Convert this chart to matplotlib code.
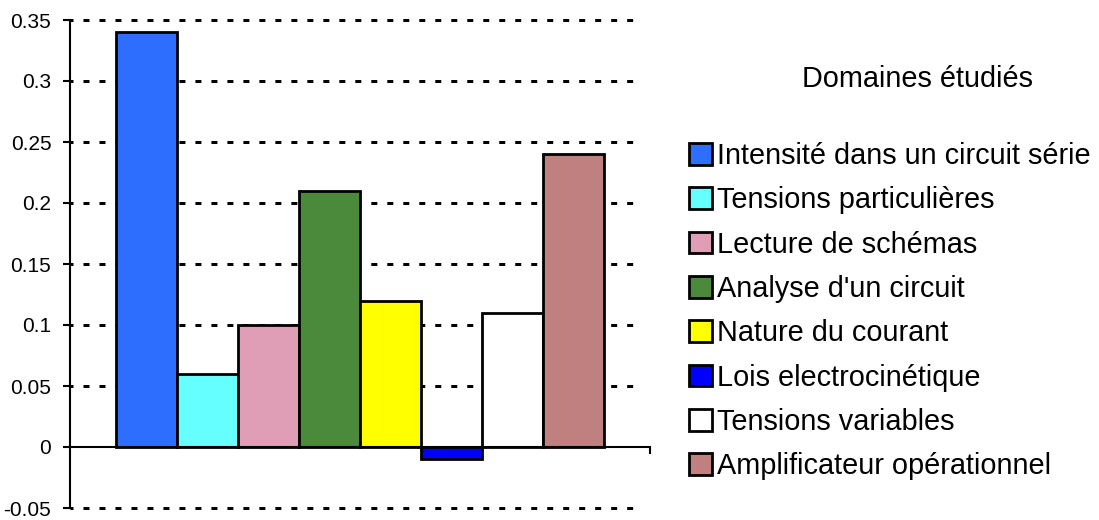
import matplotlib.pyplot as plt
from matplotlib.patches import Patch

# Données
domaines = [
    "Intensité dans un circuit série",
    "Tensions particulières",
    "Lecture de schémas",
    "Analyse d'un circuit",
    "Nature du courant",
    "Lois electrocinétique",
    "Tensions variables",
    "Amplificateur opérationnel",
]
valeurs = [0.34, 0.06, 0.10, 0.21, 0.12, -0.01, 0.11, 0.24]
couleurs = ["#2E6EFF", "#66FFFF", "#E09EB6", "#4A8A3A",
            "#FFFF00", "#0000FF", "#FFFFFF", "#C08080"]
graduations = [-0.05, 0, 0.05, 0.1, 0.15, 0.2, 0.25, 0.3, 0.35]

plt.rcParams["font.family"] = ["Liberation Sans", "DejaVu Sans"]

fig = plt.figure(figsize=(10.99, 5.2), dpi=100)
ax = fig.add_axes([70 / 1099, 1 - 508 / 520, 580 / 1099, 488 / 520])

pos = list(range(len(valeurs)))
ax.bar(pos, valeurs, width=1.0, color=couleurs, edgecolor="black",
       linewidth=2.0, zorder=3)

marge = 0.745
ax.set_xlim(-0.5 - marge, len(valeurs) - 0.5 + marge)
ax.set_ylim(-0.05, 0.35)
ax.set_yticks(graduations)
ax.set_yticklabels([f"{g:g}" for g in graduations])
ax.tick_params(axis="y", labelsize=15, length=5, width=1.5, pad=8.5,
               direction="out")

# lignes pointillées horizontales
for g in graduations:
    if g == 0:
        continue
    ax.axhline(g, color="black", linewidth=2.16,
               linestyle=(1.0, (2.0, 3.33)),
               zorder=1, clip_on=False, xmax=0.986)

ax.spines["top"].set_visible(False)
ax.spines["right"].set_visible(False)
ax.spines["left"].set_linewidth(1.5)
ax.spines["left"].set_zorder(4)
ax.spines["bottom"].set_position(("data", 0))
ax.spines["bottom"].set_linewidth(1.5)
ax.spines["bottom"].set_zorder(4)
ax.set_xticks([ax.get_xlim()[1]])
ax.set_xticklabels([""])
ax.tick_params(axis="x", length=5, width=1.5, direction="out")

poignees = [Patch(facecolor=c, edgecolor="black", linewidth=2.0) for c in couleurs]
fig.legend(poignees, domaines, loc="upper left",
           bbox_to_anchor=(689 / 1099, 1 - 142 / 520), frameon=False,
           fontsize=20.8, handlelength=0.78, handleheight=0.78,
           handletextpad=0.2, labelspacing=0.565, borderaxespad=0,
           borderpad=0)
fig.text(917 / 1099, 1 - 79 / 520, "Domaines étudiés", fontsize=20.8,
         ha="center", va="center")

fig.savefig("out.png", dpi=100)
